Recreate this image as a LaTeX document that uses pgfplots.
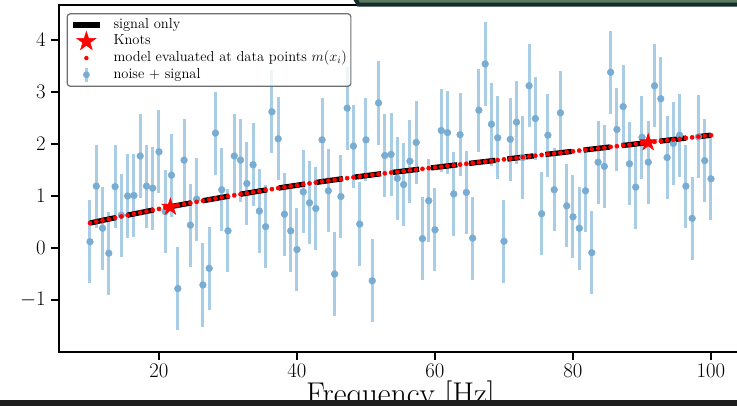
\documentclass[border=0pt]{standalone}
\usepackage{pgfplots}
\pgfplotsset{compat=1.18}
\usepackage{pgfplotstable}
\definecolor{barblue}{RGB}{168,205,228}
\definecolor{dotblue}{RGB}{120,172,210}
\definecolor{legframe}{RGB}{110,110,110}
\definecolor{topgreen}{RGB}{92,122,95}
\definecolor{topdark}{RGB}{20,44,44}
\definecolor{botbar}{RGB}{30,30,30}

\pgfdeclareplotmark{fstar}{%
  \pgfpathmoveto{\pgfqpoint{0pt}{\pgfplotmarksize}}%
  \pgfpathlineto{\pgfqpoint{-0.2245\pgfplotmarksize}{0.309\pgfplotmarksize}}%
  \pgfpathlineto{\pgfqpoint{-0.951\pgfplotmarksize}{0.309\pgfplotmarksize}}%
  \pgfpathlineto{\pgfqpoint{-0.3633\pgfplotmarksize}{-0.118\pgfplotmarksize}}%
  \pgfpathlineto{\pgfqpoint{-0.588\pgfplotmarksize}{-0.809\pgfplotmarksize}}%
  \pgfpathlineto{\pgfqpoint{0pt}{-0.382\pgfplotmarksize}}%
  \pgfpathlineto{\pgfqpoint{0.588\pgfplotmarksize}{-0.809\pgfplotmarksize}}%
  \pgfpathlineto{\pgfqpoint{0.3633\pgfplotmarksize}{-0.118\pgfplotmarksize}}%
  \pgfpathlineto{\pgfqpoint{0.951\pgfplotmarksize}{0.309\pgfplotmarksize}}%
  \pgfpathlineto{\pgfqpoint{0.2245\pgfplotmarksize}{0.309\pgfplotmarksize}}%
  \pgfpathclose
  \pgfusepathqfillstroke
}

\pgfplotstableread{
x y m
10.000 0.12 0.480
10.909 1.19 0.506
11.818 0.38 0.532
12.727 -0.10 0.557
13.636 1.18 0.582
14.545 0.63 0.607
15.455 1.00 0.632
16.364 1.01 0.656
17.273 1.77 0.680
18.182 1.19 0.704
19.091 1.15 0.728
20.000 1.85 0.752
20.909 0.70 0.775
21.818 1.40 0.798
22.727 -0.78 0.821
23.636 1.69 0.843
24.545 0.44 0.865
25.455 0.94 0.887
26.364 -0.71 0.909
27.273 -0.39 0.931
28.182 2.21 0.952
29.091 1.12 0.973
30.000 0.33 0.994
30.909 1.77 1.015
31.818 1.69 1.035
32.727 1.24 1.055
33.636 1.60 1.075
34.545 0.71 1.095
35.455 0.41 1.114
36.364 2.62 1.133
37.273 2.10 1.152
38.182 0.65 1.171
39.091 0.33 1.189
40.000 -0.03 1.207
40.909 1.08 1.225
41.818 0.87 1.243
42.727 0.76 1.260
43.636 2.08 1.278
44.545 1.10 1.295
45.455 -0.50 1.311
46.364 0.99 1.328
47.273 2.69 1.344
48.182 1.96 1.360
49.091 0.46 1.376
50.000 2.08 1.391
50.909 -0.63 1.407
51.818 2.79 1.422
52.727 1.78 1.437
53.636 1.80 1.451
54.545 1.34 1.465
55.455 1.22 1.480
56.364 1.67 1.494
57.273 2.03 1.508
58.182 0.18 1.522
59.091 0.91 1.536
60.000 0.35 1.550
60.909 2.26 1.564
61.818 2.22 1.578
62.727 1.04 1.592
63.636 2.18 1.606
64.545 1.07 1.620
65.455 0.19 1.635
66.364 2.65 1.649
67.273 3.54 1.663
68.182 2.38 1.677
69.091 2.12 1.691
70.000 0.13 1.705
70.909 2.09 1.719
71.818 2.42 1.733
72.727 1.74 1.747
73.636 3.12 1.761
74.545 2.49 1.775
75.455 0.66 1.790
76.364 2.17 1.804
77.273 1.12 1.818
78.182 2.60 1.832
79.091 0.81 1.846
80.000 0.60 1.860
80.909 0.38 1.874
81.818 1.10 1.888
82.727 -0.09 1.902
83.636 1.65 1.916
84.545 1.57 1.930
85.455 3.38 1.945
86.364 2.28 1.959
87.273 2.72 1.973
88.182 1.62 1.987
89.091 1.17 2.001
90.000 2.13 2.015
90.909 1.65 2.029
91.818 3.12 2.043
92.727 2.87 2.057
93.636 1.74 2.071
94.545 2.01 2.085
95.455 2.17 2.100
96.364 1.19 2.114
97.273 0.57 2.128
98.182 2.14 2.142
99.091 1.68 2.156
100.000 1.33 2.170
}\datatable

\begin{document}
\begin{tikzpicture}
\useasboundingbox (-58.95pt,-54pt) rectangle (678.05pt,352pt);
\begin{scope}
\clip (-58.95pt,-54pt) rectangle (678.05pt,352pt);
\begin{axis}[
  at={(0pt,0pt)}, anchor=south west,
  scale only axis, width=683.1pt, height=346.8pt,
  xmin=5.5, xmax=104.5, ymin=-2, ymax=4.67,
  axis line style={line width=2.4pt},
  tick align=outside, xtick pos=bottom, ytick pos=left,
  major tick length=8pt,
  every tick/.style={black, line width=1.8pt},
  xtick={20,40,60,80,100}, ytick={-1,0,1,2,3,4},
  minor tick num=0,
  tick label style={font=\fontsize{22}{26}\selectfont},
  xticklabel style={inner sep=4pt},
  yticklabel style={inner sep=5pt},
  xlabel={Frequency [Hz]},
  every axis x label/.style={at={(axis description cs:0.5,0)}, anchor=base, yshift=-52.5pt, font=\fontsize{31.5}{36}\selectfont, inner sep=0pt},
  legend style={at={(0,1)}, anchor=north west, xshift=7.7pt, yshift=-8pt,
    draw=legframe, line width=1.2pt, rounded corners=3pt, fill=white,
    fill opacity=0.8, draw opacity=1, text opacity=1,
    font=\fontsize{14.5}{17}\selectfont, inner sep=3pt, row sep=0pt, column sep=10pt,
    nodes={inner sep=1pt, text height=10.5pt, text depth=4pt}},
  legend cell align=left,
]
\addlegendimage{legend image code/.code={\path[draw=none, fill=none] (0pt,-5pt) rectangle (27pt,5pt);
  \draw[black, line width=5.3pt, sharp corners, draw opacity=1] (0pt,0pt) -- (27pt,0pt);}}
\addlegendentry{signal only}
\addlegendimage{legend image code/.code={\path[draw=none, fill=none] (0pt,-5pt) rectangle (27pt,5pt);
  \begin{scope}[overlay, red, fill=red, sharp corners, line width=0.5pt, fill opacity=1, draw opacity=1]
  \pgftransformshift{\pgfpoint{13.5pt}{0pt}}\pgfsetplotmarksize{10pt}\pgfuseplotmark{fstar}
  \end{scope}}}
\addlegendentry{Knots}
\addlegendimage{legend image code/.code={\path[draw=none, fill=none] (0pt,-5pt) rectangle (27pt,5pt);
  \fill[red, fill opacity=1, draw=none] (13.5pt,0pt) circle (2.2pt);}}
\addlegendentry{model evaluated at data points $m(x_i)$}
\addlegendimage{legend image code/.code={\path[draw=none, fill=none] (0pt,-5pt) rectangle (27pt,5pt);
  \draw[barblue, line width=3pt, draw opacity=1, sharp corners] (13.5pt,-7pt) -- (13.5pt,7pt);
  \fill[dotblue, fill opacity=1, draw=none] (13.5pt,0pt) circle (3.4pt);}}
\addlegendentry{noise + signal}

\addplot[forget plot, only marks, mark=none,
  error bars/.cd, y dir=both, y fixed=0.8, error mark=none,
  error bar style={line width=3pt, barblue}] table[x=x, y=y] {\datatable};
\addplot[forget plot, only marks, mark=*, mark size=3.4pt, color=dotblue,
  mark options={draw=dotblue, fill=dotblue}] table[x=x, y=y] {\datatable};
\addplot[forget plot, black, line width=5.3pt, dash pattern=on 26.5pt off 11.9pt, mark=none]
  table[x=x, y=m] {\datatable};
\addplot[forget plot, only marks, mark=*, mark size=2.1pt, red,
  mark options={draw=red, fill=red}] table[x=x, y=m] {\datatable};
\addplot[forget plot, only marks, mark=fstar, mark size=9pt, red,
  mark options={fill=red, draw=red, line width=0.5pt, sharp corners}]
  coordinates {(21.65,0.79) (90.9,2.03)};
\end{axis}
\fill[topdark] (294pt,353pt) -- (298.5pt,345.3pt) -- (680pt,345.3pt) -- (680pt,353pt) -- cycle;
\fill[topgreen] (299pt,353pt) -- (301pt,349.3pt) -- (680pt,349.3pt) -- (680pt,353pt) -- cycle;
\fill[botbar] (-60pt,-54.5pt) rectangle (680pt,-48pt);
\end{scope}
\end{tikzpicture}
\end{document}
